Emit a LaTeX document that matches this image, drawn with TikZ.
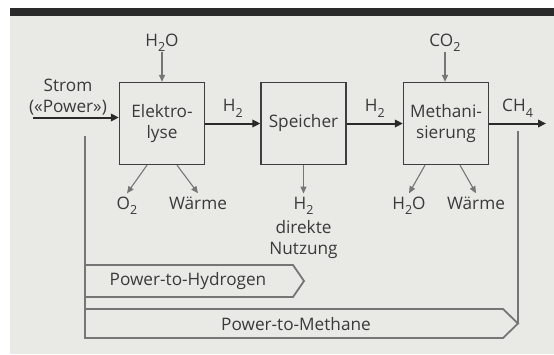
\documentclass[tikz,border=0pt]{standalone}
\usepackage{fontspec}
\setmainfont{Open Sans}
\usepackage{tikz}
\usetikzlibrary{arrows.meta,positioning,calc}
\definecolor{paper}{RGB}{233,233,230}
\definecolor{topbar}{RGB}{42,42,42}
\definecolor{boxline}{RGB}{62,62,62}
\definecolor{flowgray}{RGB}{118,118,118}
\definecolor{inkgray}{RGB}{58,58,58}
\newcommand{\chemsub}[1]{\raisebox{-5.5pt}{\fontsize{12.5}{13}\selectfont #1}}

\tikzset{
  procbox/.style={draw=boxline, line width=1.3pt, minimum width=85pt, minimum height=82pt,
    align=center, inner sep=0pt, text=inkgray},
  mainflow/.style={draw=topbar, line width=2pt, -{Triangle[length=8pt,width=7.5pt]}},
  sideflow/.style={draw=flowgray, line width=1.1pt, -{Triangle[length=7pt,width=6pt]}},
  lbl/.style={inner sep=0pt, text=inkgray},
  midlbl/.style={lbl, anchor=base, yshift=12pt},
  outlbl/.style={lbl, anchor=base},
  banner/.style={draw=flowgray, line width=1.8pt, line join=miter},
  tapline/.style={draw=flowgray, line width=1.3pt},
}

\begin{document}
\begin{tikzpicture}[x=1pt, y=-1pt, font=\fontsize{17.2}{20.5}\selectfont]
  \useasboundingbox (0,0) rectangle (554,354);
  \fill[paper] (10,16) rectangle (554,354);
  \fill[topbar] (10,8) rectangle (554,16);

  % process chain
  \node[procbox] (elektro) at (162,123.5) {Elektro-\\lyse};
  \node[procbox] (speicher) at (303.5,123.5) {Speicher};
  \node[procbox] (methan) at (446,123.5) {Methani-\\sierung};

  % electricity in, methane out
  \node[lbl, align=center] (strom) at (68,97) {Strom\\(«Power»)};
  \coordinate (stromin) at (33,117.5);
  \coordinate (ch4out) at (546,123.5);
  \draw[mainflow] (stromin) -- (stromin -| elektro.west);
  \draw[mainflow] (elektro) -- node[midlbl] {H\chemsub{2}} (speicher);
  \draw[mainflow] (speicher) -- node[midlbl] {H\chemsub{2}} (methan);
  \draw[mainflow] (methan) -- node[midlbl] {CH\chemsub{4}} (ch4out);

  % inputs from above
  \node[outlbl] (h2oin) at (162,46) {H\chemsub{2}O};
  \node[outlbl] (co2in) at (445,46) {CO\chemsub{2}};
  \draw[sideflow] (h2oin.south) -- (h2oin.south |- elektro.north);
  \draw[sideflow] (co2in.south) -- (co2in.south |- methan.north);

  % outputs below
  \node[outlbl] (o2) at (127,209) {O\chemsub{2}};
  \node[outlbl] (waerme1) at (198,209) {Wärme};
  \node[outlbl] (h2use) at (303.5,209) {H\chemsub{2}};
  \node[lbl, align=center, below=6pt of h2use] (direkt) {direkte\\Nutzung};
  \node[outlbl] (h2oout) at (409,209) {H\chemsub{2}O};
  \node[outlbl] (waerme2) at (476,209) {Wärme};
  \draw[sideflow] ([xshift=-15pt]elektro.south) -- ([yshift=3pt]o2.north);
  \draw[sideflow] ([xshift=15pt]elektro.south) -- ([yshift=3pt]waerme1.north);
  \draw[sideflow] (speicher.south) -- ([yshift=3pt]h2use.north);
  \draw[sideflow] ([xshift=-21pt]methan.south) -- ([yshift=3pt]h2oout.north);
  \draw[sideflow] ([xshift=14pt]methan.south) -- ([yshift=3pt]waerme2.north);

  % scope banners
  \coordinate (p2hnw) at (85,265);
  \coordinate (p2htip) at (304,281);
  \coordinate (p2mnw) at (85,309);
  \coordinate (p2mtip) at (518,323.5);
  \coordinate (p2msw) at (85,338);
  \draw[banner] (p2hnw) -- (293,265) -- (p2htip) -- (293,297) -- (85,297) -- cycle;
  \draw[banner] (p2mnw) -- (503,309) -- (p2mtip) -- (503,338) -- (p2msw) -- cycle;
  \node[lbl] (p2h) at (188,281) {Power-to-Hydrogen};
  \node[lbl] (p2m) at (296,324) {Power-to-Methane};
  \coordinate (stromtap) at (85,136);
  \coordinate (ch4tap) at (518,131);
  \draw[tapline] (stromtap) -- (p2msw);
  \draw[tapline] (ch4tap) -- (p2mtip);
\end{tikzpicture}
\end{document}
